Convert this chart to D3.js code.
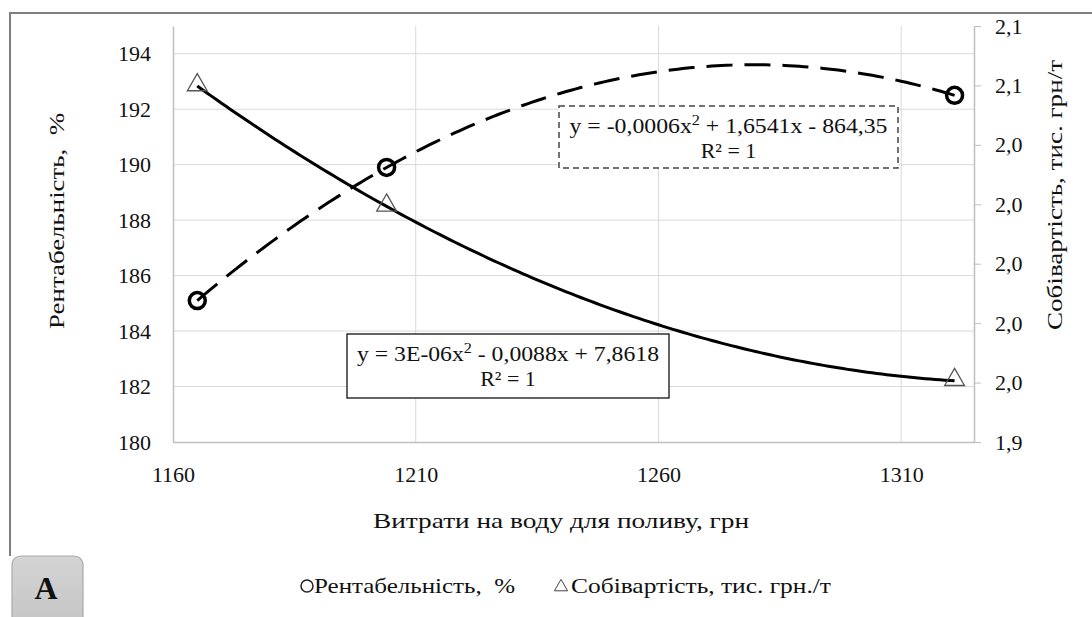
<!DOCTYPE html>
<html>
<head>
<meta charset="utf-8">
<script src="https://cdn.jsdelivr.net/npm/d3@7"></script>
<style>
  body { margin: 0; background: #fff; font-family: 'Liberation Serif', serif; }
  svg text { white-space: pre; font-family: 'Liberation Serif', serif; }
</style>
</head>
<body>
<div id="chart"></div>
<script>
// data
var waterCost = [1165, 1204, 1321];          // Витрати на воду для поливу, грн
var profitability = [185.1, 189.9, 192.5];   // Рентабельність, %
var unitCost = [2.0598, 2.0193, 1.9606];     // Собівартість, тис. грн./т

var xTicks = [1160, 1210, 1260, 1310];
var leftTicks = [180, 182, 184, 186, 188, 190, 192, 194];
var rightTicks = [1.94, 1.96, 1.98, 2.00, 2.02, 2.04, 2.06, 2.08];

var eqProfit = ["y = -0,0006x", "2", " + 1,6541x - 864,35"];
var eqCost = ["y = 3E-06x", "2", " - 0,0088x + 7,8618"];

var FONT = "Liberation Serif";

var W = 1092, H = 617;
var margin = {top: 26, right: 118, bottom: 175, left: 173},
    width = W - margin.left - margin.right,
    height = H - margin.top - margin.bottom;

var svg = d3.select("#chart").append("svg")
    .attr("width", W)
    .attr("height", H);

// outer frame (top + left edges only visible)
svg.append("path")
  .attr("d", "M10,556 L10,13 L" + W + ",13")
  .attr("fill", "none")
  .attr("stroke", "#7f7f7f")
  .attr("stroke-width", 2);

var g = svg.append("g")
  .attr("transform", "translate(" + margin.left + "," + margin.top + ")");

var x = d3.scaleLinear().domain([1160, 1325]).range([0, width]);
var yL = d3.scaleLinear().domain([180, 195]).range([height, 0]);
var yR = d3.scaleLinear().domain([1.94, 2.08]).range([height, 0]);

// gridlines
g.append("g").selectAll("line")
  .data(leftTicks.slice(1))
  .enter().append("line")
    .attr("x1", 0).attr("x2", width)
    .attr("y1", function(d) { return yL(d); })
    .attr("y2", function(d) { return yL(d); })
    .attr("stroke", "#d9d9d9").attr("stroke-width", 1);
g.append("g").selectAll("line")
  .data(xTicks.slice(1))
  .enter().append("line")
    .attr("y1", 0).attr("y2", height)
    .attr("x1", function(d) { return x(d); })
    .attr("x2", function(d) { return x(d); })
    .attr("stroke", "#d9d9d9").attr("stroke-width", 1);

// axes
var fmtComma = function(d) { return d3.format(".1f")(d).replace(".", ","); };

var xAxis = g.append("g")
  .attr("transform", "translate(0," + height + ")")
  .call(d3.axisBottom(x).tickValues(xTicks).tickSize(0).tickPadding(24).tickFormat(d3.format("d")));
var yAxisL = g.append("g")
  .call(d3.axisLeft(yL).tickValues(leftTicks).tickSize(0).tickPadding(22));
var yAxisR = g.append("g")
  .attr("transform", "translate(" + width + ",0)")
  .call(d3.axisRight(yR).tickValues(rightTicks).tickSize(7).tickSizeOuter(0).tickPadding(14).tickFormat(fmtComma));

[xAxis, yAxisL, yAxisR].forEach(function(a) {
  a.attr("font-family", FONT).attr("font-size", 22);
  a.selectAll(".domain").attr("stroke", "#bfbfbf").attr("stroke-width", 1.5);
  a.selectAll(".tick line").attr("stroke", "#bfbfbf");
  a.selectAll("text").attr("fill", "#111");
});

// trendlines (quadratic through the three points, like the Excel trendline)
function quadFit(xs, ys) {
  return function(v) {
    var s = 0;
    for (var i = 0; i < 3; i++) {
      var t = ys[i];
      for (var j = 0; j < 3; j++) if (j !== i) t *= (v - xs[j]) / (xs[i] - xs[j]);
      s += t;
    }
    return s;
  };
}
var fProfit = quadFit(waterCost, profitability);
var fCost = quadFit(waterCost, unitCost);
var xs = d3.range(waterCost[0], waterCost[2] + 0.5, 1);

g.append("path")
  .datum(xs)
  .attr("fill", "none")
  .attr("stroke", "#000")
  .attr("stroke-width", 3)
  .attr("d", d3.line()
    .x(function(d) { return x(d); })
    .y(function(d) { return yR(fCost(d)); }));

g.append("path")
  .datum(xs)
  .attr("fill", "none")
  .attr("stroke", "#000")
  .attr("stroke-width", 3)
  .attr("stroke-dasharray", "26,12")
  .attr("d", d3.line()
    .x(function(d) { return x(d); })
    .y(function(d) { return yL(fProfit(d)); }));

// markers
var tri = d3.symbol().type(d3.symbolTriangle).size(170);
g.append("g").selectAll("path")
  .data(waterCost)
  .enter().append("path")
    .attr("d", tri)
    .attr("transform", function(d, i) { return "translate(" + x(d) + "," + (yR(unitCost[i]) - 1) + ")"; })
    .attr("fill", "none")
    .attr("stroke", "#555")
    .attr("stroke-width", 1.3);

g.append("g").selectAll("circle")
  .data(waterCost)
  .enter().append("circle")
    .attr("cx", function(d) { return x(d); })
    .attr("cy", function(d, i) { return yL(profitability[i]); })
    .attr("r", 8)
    .attr("fill", "none")
    .attr("stroke", "#000")
    .attr("stroke-width", 3.5);

// equation boxes
function eqBox(bx, by, bw, bh, dashed, parts, len) {
  var b = svg.append("g").attr("transform", "translate(" + bx + "," + by + ")");
  b.append("rect")
    .attr("width", bw).attr("height", bh)
    .attr("fill", "#fff")
    .attr("stroke", dashed ? "#444" : "#111")
    .attr("stroke-width", dashed ? 1.5 : 1.3)
    .attr("stroke-dasharray", dashed ? "6,4" : null);
  var t = b.append("text")
    .attr("x", bw / 2).attr("y", 27)
    .attr("text-anchor", "middle")
    .attr("font-family", FONT).attr("font-size", 22)
    .attr("textLength", len).attr("lengthAdjust", "spacingAndGlyphs")
    .attr("fill", "#111");
  t.append("tspan").text(parts[0]);
  t.append("tspan").attr("dy", -8).attr("font-size", 15).text(parts[1]);
  t.append("tspan").attr("dy", 8).text(parts[2]);
  b.append("text")
    .attr("x", bw / 2).attr("y", 52)
    .attr("text-anchor", "middle")
    .attr("font-family", FONT).attr("font-size", 22)
    .attr("fill", "#111")
    .text("R² = 1");
}
eqBox(559, 106, 339, 62, true, eqProfit, 318);
eqBox(347, 334, 322, 64, false, eqCost, 302);

// axis titles
function label(tx, ty, rot, txt, len, size) {
  svg.append("text")
    .attr("transform", "translate(" + tx + "," + ty + ")" + (rot ? " rotate(-90)" : ""))
    .attr("text-anchor", "middle")
    .attr("font-family", FONT).attr("font-size", size)
    .attr("textLength", len).attr("lengthAdjust", "spacingAndGlyphs")
    .attr("fill", "#111")
    .text(txt);
}
label(64, 221, true, "Рентабельність,  %", 216, 22);
label(1062, 195, true, "Собівартість, тис. грн/т", 270, 22);
label(561, 528, false, "Витрати на воду для поливу, грн", 376, 22);

// legend
var leg = svg.append("g");
leg.append("circle")
  .attr("cx", 307).attr("cy", 586).attr("r", 6)
  .attr("fill", "none").attr("stroke", "#222").attr("stroke-width", 1.5);
leg.append("text")
  .attr("x", 314).attr("y", 593)
  .attr("font-family", FONT).attr("font-size", 21)
  .attr("textLength", 201).attr("lengthAdjust", "spacingAndGlyphs")
  .attr("fill", "#111")
  .text("Рентабельність,  %");
leg.append("path")
  .attr("d", d3.symbol().type(d3.symbolTriangle).size(75))
  .attr("transform", "translate(561,587)")
  .attr("fill", "none").attr("stroke", "#444").attr("stroke-width", 1);
leg.append("text")
  .attr("x", 571).attr("y", 593)
  .attr("font-family", FONT).attr("font-size", 21)
  .attr("textLength", 260).attr("lengthAdjust", "spacingAndGlyphs")
  .attr("fill", "#111")
  .text("Собівартість, тис. грн./т");

// "A" tab
var grad = svg.append("defs").append("linearGradient")
  .attr("id", "tabGrad").attr("x1", 0).attr("y1", 0).attr("x2", 0).attr("y2", 1);
grad.append("stop").attr("offset", "0%").attr("stop-color", "#d4d4d4");
grad.append("stop").attr("offset", "100%").attr("stop-color", "#c4c4c4");
var tab = svg.append("g");
tab.append("path")
  .attr("d", "M12,630 L12,566 Q12,556 22,556 L73,556 Q83,556 83,566 L83,630 Z")
  .attr("fill", "url(#tabGrad)")
  .attr("stroke", "#aaa")
  .attr("stroke-width", 1.2);
tab.append("text")
  .attr("x", 46).attr("y", 599)
  .attr("text-anchor", "middle")
  .attr("font-family", FONT).attr("font-size", 32)
  .attr("font-weight", "bold")
  .attr("fill", "#111")
  .text("A");
</script>
</body>
</html>
